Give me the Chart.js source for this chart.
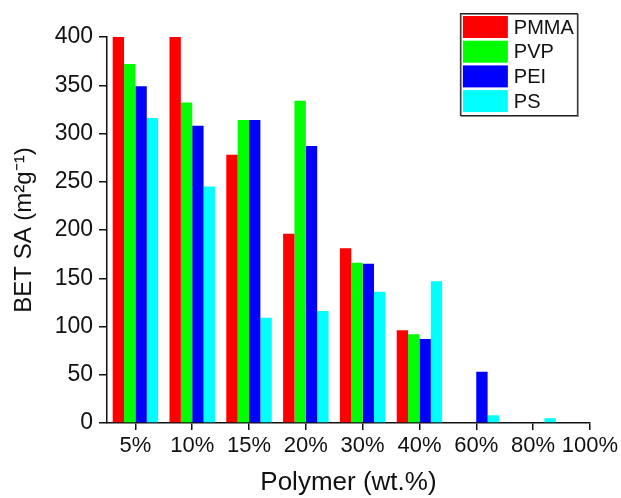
<!DOCTYPE html>
<html>
<head>
<meta charset="utf-8">
<script src="https://cdn.jsdelivr.net/npm/chart.js@4"></script>
<style>
  body { margin: 0; background: #fff; }
  #wrap { width: 621px; height: 498px; position: relative; }
</style>
</head>
<body>
<div id="wrap"><canvas id="chart"></canvas></div>
<script>
// categories (x ticks)
const categories = ['5%', '10%', '15%', '20%', '30%', '40%', '60%', '80%', '100%'];

// series values (null = no bar)
const pmma = [400, 400, 278, 196, 181, 96, null, null, null];
const pvp  = [372, 332, 314, 334, 166, 92, null, null, null];
const pei  = [349, 308, 314, 287, 165, 87, 53, null, null];
const ps   = [316, 245, 109, 116, 136, 147, 8, 5, null];

const yTicks = [0, 50, 100, 150, 200, 250, 300, 350, 400];

const toPoints = arr => arr.map((v, i) => ({ x: i, y: v })).filter(p => p.y !== null);

const FONT = 'Liberation Sans, Arial, sans-serif';

// legend box drawn inside the plot, top right
const boxLegend = {
    id: 'boxLegend',
    afterDraw(chart) {
        const ctx = chart.ctx;
        const area = chart.chartArea;
        const x = area.right - 130, y = area.top - 24, w = 117, h = 102;
        ctx.save();
        ctx.fillStyle = '#fff';
        ctx.fillRect(x, y, w, h);
        ctx.strokeStyle = '#888';
        ctx.lineWidth = 1;
        ctx.strokeRect(x + 1.5, y + 1.5, w, h);
        ctx.strokeStyle = '#222';
        ctx.strokeRect(x + 0.5, y + 0.5, w, h);
        ctx.font = '20px ' + FONT;
        ctx.textBaseline = 'middle';
        chart.data.datasets.forEach((ds, i) => {
            const ry = y + 3 + i * 24.7;
            ctx.fillStyle = ds.backgroundColor;
            ctx.fillRect(x + 3, ry, 45, 22);
            ctx.fillStyle = '#111';
            ctx.fillText(ds.label, x + 54, ry + 12);
        });
        ctx.restore();
    }
};

new Chart(document.getElementById('chart'), {
    type: 'bar',
    data: {
        datasets: [
            { label: 'PMMA', data: toPoints(pmma), backgroundColor: '#ff0000' },
            { label: 'PVP',  data: toPoints(pvp),  backgroundColor: '#00ff00' },
            { label: 'PEI',  data: toPoints(pei),  backgroundColor: '#0000ff' },
            { label: 'PS',   data: toPoints(ps),   backgroundColor: '#00ffff' }
        ]
    },
    options: {
        responsive: true, maintainAspectRatio: false, animation: false,
        layout: { padding: { top: 37, right: 30, left: 0, bottom: 0 } },
        datasets: { bar: { categoryPercentage: 0.8, barPercentage: 1, borderWidth: 0 } },
        plugins: { legend: { display: false }, tooltip: { enabled: false } },
        scales: {
            x: {
                type: 'linear', min: -0.5, max: categories.length - 1, offset: false,
                afterBuildTicks: s => { s.ticks = categories.map((c, i) => ({ value: i })); },
                afterFit: s => { s.height = 75; },
                ticks: {
                    autoSkip: false, maxRotation: 0, padding: 3, color: '#111',
                    font: { family: FONT, size: 22 },
                    callback: v => categories[v]
                },
                grid: { offset: false, drawOnChartArea: false, tickLength: 7, color: '#111', lineWidth: 1.5 },
                border: { display: true, color: '#111', width: 1.5 },
                title: {
                    display: true, text: 'Polymer (wt.%)', color: '#111',
                    font: { family: FONT, size: 26 }, padding: { top: 0, bottom: 0 }
                }
            },
            y: {
                min: 0, max: 400,
                afterBuildTicks: s => { s.ticks = yTicks.map(v => ({ value: v })); },
                afterFit: s => { s.width = 107; },
                ticks: { padding: 6, color: '#111', font: { family: FONT, size: 23 } },
                grid: { drawOnChartArea: false, tickLength: 8, color: '#111', lineWidth: 1.5 },
                border: { display: true, color: '#111', width: 1.5 },
                title: {
                    display: true, text: 'BET SA (m²g⁻¹)', color: '#111',
                    font: { family: FONT, size: 24 }, padding: { top: 10, bottom: 0 }
                }
            }
        }
    },
    plugins: [boxLegend]
});
</script>
</body>
</html>
